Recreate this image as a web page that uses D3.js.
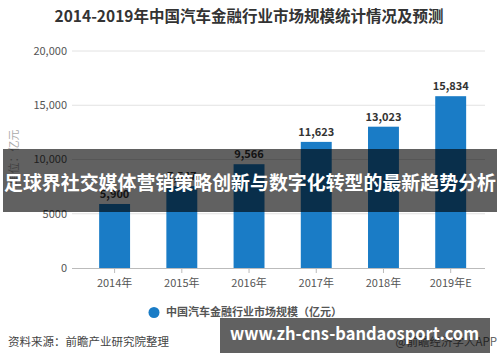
<!DOCTYPE html>
<html>
<head>
<meta charset="utf-8">
<script src="https://cdn.jsdelivr.net/npm/d3@7"></script>
<style>
  html, body { margin: 0; padding: 0; background: #fff; }
  svg { display: block; font-family: "Noto Sans CJK SC", "Noto Sans", sans-serif; }
</style>
</head>
<body>
<div id="chart"></div>
<script>
const years = ["2014年", "2015年", "2016年", "2017年", "2018年", "2019年E"];
const marketSize = [5900, 7547, 9566, 11623, 13023, 15834];
const yTicks = [0, 5000, 10000, 15000, 20000];
const yTickLabels = ["0", "5000", "10,000", "15,000", "20,000"];

const W = 500, H = 362;
const barColor = "#1a7cc6";

const svg = d3.select("#chart").append("svg")
  .attr("width", W).attr("height", H);

// 標題
svg.append("text")
  .attr("x", 249).attr("y", 22)
  .attr("text-anchor", "middle")
  .attr("font-size", 15.5).attr("font-weight", "bold")
  .attr("fill", "#333")
  .text("2014-2019年中国汽车金融行业市场规模统计情况及预测");

const x = d3.scaleBand()
  .domain(years)
  .range([81, 484.3])
  .paddingInner(0.54)
  .paddingOuter(0.27);

const y = d3.scaleLinear()
  .domain([0, 20000])
  .range([268, 51]);

// 網格線
svg.append("g")
  .selectAll("line")
  .data(yTicks.filter(d => d > 0))
  .enter().append("line")
  .attr("x1", 72).attr("x2", 485)
  .attr("y1", d => y(d)).attr("y2", d => y(d))
  .attr("stroke", "#e2e2e2").attr("stroke-width", 1);

// Y 軸文字
svg.append("g")
  .selectAll("text")
  .data(yTicks)
  .enter().append("text")
  .attr("x", 67)
  .attr("y", d => y(d))
  .attr("dy", "0.35em")
  .attr("text-anchor", "end")
  .attr("font-size", 11)
  .attr("fill", "#555")
  .text((d, i) => yTickLabels[i]);

// 單位
svg.append("text")
  .attr("transform", "translate(18,157) rotate(-90)")
  .attr("text-anchor", "middle")
  .attr("font-size", 11)
  .attr("fill", "#aaa")
  .text("单位：亿元");

// 柱子
svg.append("g")
  .selectAll("rect")
  .data(marketSize)
  .enter().append("rect")
  .attr("x", (d, i) => x(years[i]))
  .attr("y", d => y(d))
  .attr("width", x.bandwidth())
  .attr("height", d => y(0) - y(d))
  .attr("fill", barColor);

// 數值標籤
svg.append("g")
  .selectAll("text")
  .data(marketSize)
  .enter().append("text")
  .attr("x", (d, i) => x(years[i]) + x.bandwidth() / 2)
  .attr("y", d => y(d) - 6)
  .attr("text-anchor", "middle")
  .attr("font-size", 11).attr("font-weight", "bold")
  .attr("fill", "#333")
  .text(d => d3.format(",")(d));

// X 軸
svg.append("line")
  .attr("x1", 72).attr("x2", 485)
  .attr("y1", y(0) + 0.5).attr("y2", y(0) + 0.5)
  .attr("stroke", "#bbb");

svg.append("g")
  .selectAll("line")
  .data(years)
  .enter().append("line")
  .attr("x1", d => x(d) + x.bandwidth() / 2)
  .attr("x2", d => x(d) + x.bandwidth() / 2)
  .attr("y1", y(0)).attr("y2", y(0) + 5)
  .attr("stroke", "#bbb");

svg.append("g")
  .selectAll("text")
  .data(years)
  .enter().append("text")
  .attr("x", d => x(d) + x.bandwidth() / 2)
  .attr("y", 283)
  .attr("dy", "0.35em")
  .attr("text-anchor", "middle")
  .attr("font-size", 11)
  .attr("fill", "#555")
  .text(d => d);

// 圖例
svg.append("circle")
  .attr("cx", 154).attr("cy", 312.5).attr("r", 5.5)
  .attr("fill", barColor);
svg.append("text")
  .attr("x", 166).attr("y", 312.5)
  .attr("dy", "0.35em")
  .attr("font-size", 11).attr("font-weight", "bold")
  .attr("fill", "#555")
  .text("中国汽车金融行业市场规模（亿元）");

// 來源
svg.append("text")
  .attr("x", 8).attr("y", 342)
  .attr("dy", "0.35em")
  .attr("font-size", 11.5)
  .attr("fill", "#444")
  .text("资料来源：前瞻产业研究院整理");
svg.append("text")
  .attr("x", 497).attr("y", 342)
  .attr("dy", "0.35em")
  .attr("text-anchor", "end")
  .attr("font-size", 11.5)
  .attr("fill", "#666")
  .text("@前瞻经济学人APP");

// 橫幅
svg.append("rect")
  .attr("x", 3).attr("y", 149)
  .attr("width", 494).attr("height", 63)
  .attr("fill", "rgba(0,0,0,0.62)");
svg.append("text")
  .attr("x", 250).attr("y", 183)
  .attr("dy", "0.35em")
  .attr("text-anchor", "middle")
  .attr("font-size", 19).attr("font-weight", "bold")
  .attr("fill", "#fff")
  .attr("textLength", 492).attr("lengthAdjust", "spacingAndGlyphs")
  .text("足球界社交媒体营销策略创新与数字化转型的最新趋势分析");

svg.append("rect")
  .attr("x", 220).attr("y", 318)
  .attr("width", 270).attr("height", 35)
  .attr("fill", "rgba(0,0,0,0.62)");
svg.append("text")
  .attr("x", 230).attr("y", 340)
  .attr("font-size", 18).attr("font-weight", "bold")
  .attr("fill", "#fff")
  .attr("textLength", 249).attr("lengthAdjust", "spacingAndGlyphs")
  .text("www.zh-cns-bandaosport.com");
</script>
</body>
</html>
